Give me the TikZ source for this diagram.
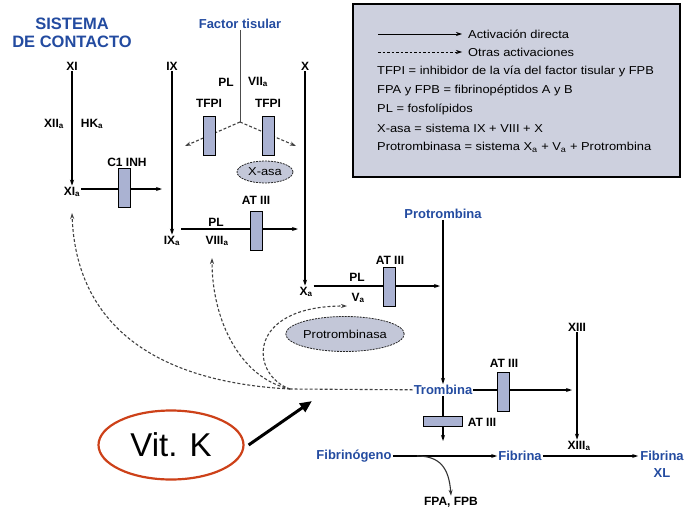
\documentclass[tikz,border=0pt]{standalone}
\usepackage{fontspec}
\setmainfont{Liberation Sans}
\newfontfamily\leyfont[FakeStretch=1.12]{Liberation Sans}
\usetikzlibrary{
  positioning,
  shapes.geometric,
  arrows.meta
}
\definecolor{azul}{RGB}{35,75,160}
\definecolor{lila}{RGB}{170,178,210}
\definecolor{grisazul}{RGB}{195,199,216}
\definecolor{fondo}{RGB}{205,208,222}
\definecolor{rojizo}{RGB}{205,65,25}
\newcommand{\subA}{\textsubscript{a}}

\begin{document}
\begin{tikzpicture}[x=1pt, y=-1pt,
    every node/.style={font=\fontsize{12}{13}\selectfont\bfseries, inner sep=1pt},
    azulito/.style={text=azul, font=\fontsize{13}{17}\selectfont\bfseries},
    inh/.style={draw, fill=lila, minimum width=12pt, minimum height=39pt, inner sep=0pt},
    inhh/.style={draw, fill=lila, minimum width=39pt, minimum height=10pt, inner sep=0pt},
    nube/.style={ellipse, draw=black!85, line width=0.8pt, dash pattern=on 2pt off 1pt, fill=grisazul, inner sep=0pt,
      font=\leyfont\fontsize{11.5}{12}\selectfont},
    directa/.style={-{Stealth[length=6pt,width=4pt]}, line width=1.1pt},
    otras/.style={-{Stealth[length=6pt,width=4pt]}, line width=1.1pt, dash pattern=on 3pt off 2pt, black!75},
    ley/.style={anchor=west, inner sep=0pt, font=\leyfont\fontsize{11.5}{12}\selectfont}]
\useasboundingbox (0,0) rectangle (685,511);

% leyenda
\node [draw, fill=fondo, line width=1.2pt, minimum width=327pt, minimum height=173pt, inner sep=0pt] (leyenda) at (516.5,90.5) {};
\coordinate (d1) at (378,34);
\coordinate (d2) at (462,34);
\coordinate (o1) at (378,52);
\coordinate (o2) at (462,52);
\draw [directa, line width=0.7pt] (d1) -- (d2);
\draw [otras, black, line width=0.6pt, dash pattern=on 2.5pt off 2pt] (o1) -- (o2);
\node [ley] (tdir) at (468,34) {Activación directa};
\node [ley] (totr) at (468,52) {Otras activaciones};
\node [ley] (ltfpi) at (377,71) {TFPI = inhibidor de la vía del factor tisular y FPB};
\node [ley] (lfpa) at (377,90) {FPA y FPB = fibrinopéptidos A y B};
\node [ley] (lpl) at (377,109) {PL = fosfolípidos};
\node [ley] (lxasa) at (377,128) {X-asa = sistema IX + VIII + X};
\node [ley] (lprot) at (377,147) {Protrombinasa = sistema X\subA{} + V\subA{} + Protrombina};

% factores
\node [font=\fontsize{16.5}{18}\selectfont\bfseries, text=azul, align=center] (contacto) at (72,33) {SISTEMA\\DE CONTACTO};
\node [azulito] (tisular) at (240,24) {Factor tisular};
\node (fxi) at (72,66) {XI};
\node (fxia) at (72,192) {XI\subA};
\node (fxiia) at (54,124) {XII\subA};
\node (hka) at (92,124) {HK\subA};
\node (c1inh) at (127,162) {C1 INH};
\node (fix) at (172,66) {IX};
\node (fixa) at (172,241) {IX\subA};
\node (pl1) at (226,82) {PL};
\node (fviia) at (258,82) {VII\subA};
\node (tfpi1) at (209,103) {TFPI};
\node (tfpi2) at (268,103) {TFPI};
\node [nube, minimum width=56pt, minimum height=22pt] (xasa) at (265,172) {X-asa};
\node (at1) at (256,200) {AT III};
\node (pl2) at (216,222) {PL};
\node (fviiia) at (217,241) {VIII\subA};
\node (fx) at (305,66) {X};
\node (fxa) at (306,292) {X\subA};
\node (pl3) at (357,277) {PL};
\node (fva) at (358,298) {V\subA};
\node (at2) at (390,260) {AT III};
\node [nube, minimum width=107pt, minimum height=35pt] (protrombinasa) at (345,334) {Protrombinasa};
\node [azulito] (protrombina) at (443,214) {Protrombina};
\node [azulito] (trombina) at (443,390) {Trombina};
\node (at3) at (504,363) {AT III};
\node (fxiii) at (577,327) {XIII};
\node (fxiiia) at (579,446) {XIII\subA};
\node (at4) at (482,422) {AT III};
\node [azulito] (fibrinogeno) at (354,456) {Fibrinógeno};
\node [azulito] (fibrina) at (520,456) {Fibrina};
\node [azulito, align=center, inner sep=0pt] (fibrinaxl) at (662,464) {Fibrina\\XL};
\node (fpa) at (451,502) {FPA, FPB};
\node [ellipse, draw=rojizo, line width=2.2pt, minimum width=145pt, minimum height=69pt, inner sep=0pt,
  font=\fontsize{33}{36}\selectfont] (vitk) at (171,445) {Vit. K};

% activaciones directas
\coordinate (c1fin) at (162,189);
\coordinate (ixfin) at (298,229);
\coordinate (xafin) at (440,286);
\coordinate (fork) at (240,122);
\coordinate (tfpiizq) at (185,146);
\coordinate (tfpider) at (296,146);
\coordinate (trombfin) at (572,390);
\coordinate (trombbaja) at (443,441);
\coordinate (fpaini) at (417,456);
\draw [directa] (fxi) -- (fxi |- fxia.north);
\draw [directa] (fxia.east |- c1fin) -- (c1fin);
\draw [directa] (fix) -- (fix |- fixa.north);
\draw [directa] (fixa.north east |- ixfin) -- (ixfin);
\draw [directa] (fx) -- (fx |- fxa.north);
\draw [directa] (fxa.east |- xafin) -- (xafin);
\draw [line width=0.6pt, black!70] (tisular) -- (fork);
\draw [otras] (fork) -- (tfpiizq);
\draw [otras] (fork) -- (tfpider);
\draw [directa] (protrombina) -- (trombina);
\draw [directa] (trombina) -- (trombfin);
\draw [directa] (fxiii) -- (fxiii |- fxiiia.north);
\draw [directa] (trombina) -- (trombbaja);
\draw [directa] (fibrinogeno) -- (fibrina);
\draw [directa] (fibrina) -- ([xshift=-2pt]fibrinaxl.west |- fibrina);
\draw [directa, black!80] (fpaini) .. controls (440,456) and (449,468) .. (fpa.north);

% inhibidores
\node [inh] (c1box) at (124,188) {};
\node [inh] (tfpibox1) at (209,135.5) {};
\node [inh] (tfpibox2) at (268.5,135.5) {};
\node [inh] (at1box) at (256,231) {};
\node [inh] (at2box) at (389.5,287) {};
\node [inh] (at3box) at (503,391.5) {};
\node [inhh] (at4box) at (442.5,421) {};

% otras activaciones (trombina)
\coordinate (junta) at (290,389);
\coordinate (xiavuelta) at (72,213);
\coordinate (viiiavuelta) at (212,258);
\coordinate (ptsvuelta) at (347,306);
\draw [otras, -] (trombina) -- (junta);
\draw [otras] (junta) .. controls (155,382) and (76,325) .. (xiavuelta);
\draw [otras] (junta) .. controls (240,378) and (212,320) .. (viiiavuelta);
\draw [otras] (junta) .. controls (250,375) and (245,306) .. (ptsvuelta);

% vitamina K
\coordinate (vitkfin) at (312,401);
\draw [line width=3pt, -{Triangle[length=12pt,width=10pt]}] ([xshift=4pt]vitk.east) -- (vitkfin);
\end{tikzpicture}
\end{document}
